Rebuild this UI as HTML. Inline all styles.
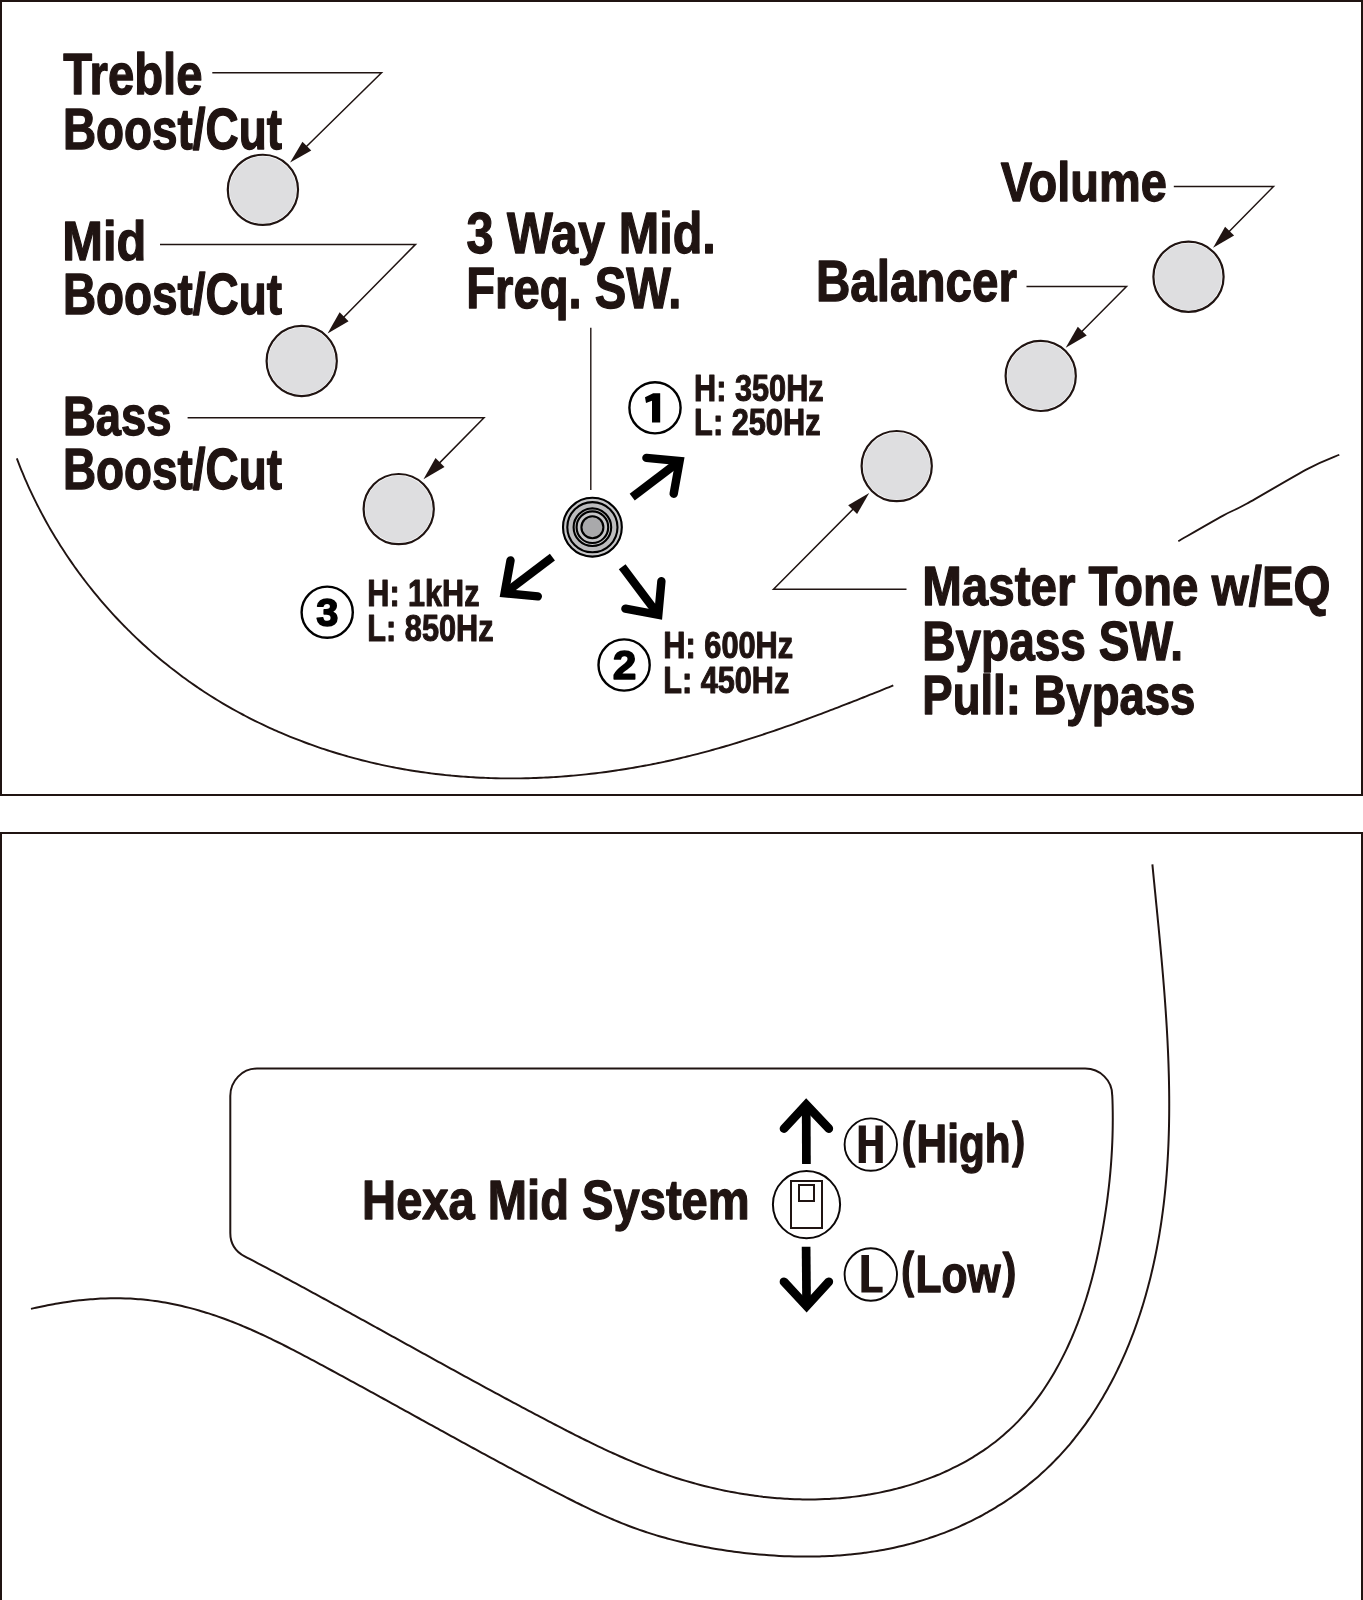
<!DOCTYPE html>
<html><head><meta charset="utf-8"><style>
html,body{margin:0;padding:0;background:#fff;width:1363px;height:1600px;overflow:hidden}
svg{display:block;will-change:transform}
text{font-family:"Liberation Sans",sans-serif;font-weight:bold}
</style></head><body>
<svg width="1363" height="1600" viewBox="0 0 1363 1600">
<rect x="1" y="1" width="1361" height="794" fill="none" stroke="#201412" stroke-width="2"/>
<path d="M1,1700 L1,833 L1362,833 L1362,1700" fill="none" stroke="#201412" stroke-width="2"/>
<path d="M16.83,458.44 C17.13,459.22 18.02,461.57 18.63,463.13 C19.24,464.69 19.85,466.25 20.47,467.81 C21.09,469.37 21.73,470.92 22.37,472.47 C23.01,474.02 23.65,475.57 24.31,477.11 C24.97,478.65 25.64,480.19 26.31,481.72 C26.98,483.25 27.66,484.78 28.35,486.31 C29.04,487.84 29.74,489.36 30.45,490.88 C31.16,492.4 31.87,493.92 32.59,495.43 C33.31,496.94 34.04,498.45 34.78,499.96 C35.52,501.46 36.27,502.96 37.02,504.46 C37.78,505.96 38.54,507.45 39.31,508.94 C40.08,510.43 40.86,511.91 41.65,513.39 C42.44,514.87 43.23,516.35 44.03,517.82 C44.83,519.29 45.64,520.76 46.46,522.22 C47.28,523.68 48.1,525.14 48.93,526.6 C49.76,528.06 50.6,529.5 51.45,530.95 C52.3,532.4 53.16,533.84 54.02,535.28 C54.88,536.72 55.75,538.14 56.63,539.57 C57.51,541 58.39,542.43 59.28,543.85 C60.17,545.27 61.07,546.68 61.98,548.09 C62.89,549.5 63.81,550.9 64.73,552.3 C65.65,553.7 66.58,555.1 67.51,556.49 C68.45,557.88 69.39,559.27 70.34,560.65 C71.29,562.03 72.24,563.41 73.21,564.78 C74.17,566.15 75.15,567.52 76.13,568.88 C77.11,570.24 78.1,571.59 79.09,572.94 C80.08,574.29 81.08,575.64 82.08,576.98 C83.08,578.32 84.1,579.66 85.12,580.99 C86.14,582.32 87.17,583.64 88.2,584.96 C89.23,586.28 90.28,587.6 91.33,588.91 C92.38,590.22 93.43,591.52 94.49,592.82 C95.55,594.12 96.62,595.41 97.69,596.7 C98.76,597.99 99.84,599.26 100.93,600.54 C102.02,601.81 103.11,603.09 104.21,604.35 C105.31,605.62 106.41,606.88 107.52,608.13 C108.63,609.38 109.75,610.63 110.88,611.87 C112,613.11 113.13,614.35 114.27,615.58 C115.41,616.81 116.55,618.03 117.7,619.25 C118.85,620.47 120.01,621.68 121.17,622.89 C122.33,624.1 123.51,625.3 124.68,626.49 C125.86,627.68 127.03,628.87 128.22,630.05 C129.41,631.23 130.59,632.41 131.79,633.58 C132.99,634.75 134.2,635.91 135.41,637.07 C136.62,638.23 137.83,639.38 139.05,640.52 C140.27,641.66 141.51,642.81 142.74,643.94 C143.97,645.07 145.2,646.19 146.45,647.31 C147.69,648.43 148.95,649.54 150.21,650.65 C151.47,651.76 152.72,652.86 153.99,653.95 C155.26,655.04 156.53,656.12 157.81,657.2 C159.09,658.28 160.37,659.35 161.66,660.42 C162.95,661.49 164.24,662.55 165.54,663.6 C166.84,664.65 168.15,665.69 169.46,666.73 C170.77,667.77 172.09,668.8 173.41,669.82 C174.73,670.84 176.05,671.86 177.38,672.87 C178.71,673.88 180.05,674.88 181.39,675.88 C182.73,676.88 184.08,677.87 185.43,678.85 C186.78,679.83 188.14,680.8 189.5,681.77 C190.86,682.74 192.24,683.7 193.61,684.65 C194.98,685.6 196.36,686.54 197.74,687.48 C199.12,688.42 200.5,689.35 201.89,690.27 C203.28,691.19 204.68,692.11 206.08,693.02 C207.48,693.93 208.89,694.83 210.3,695.72 C211.71,696.61 213.12,697.5 214.54,698.38 C215.96,699.26 217.38,700.13 218.81,700.99 C220.24,701.85 221.67,702.71 223.11,703.56 C224.55,704.41 225.99,705.25 227.43,706.08 C228.88,706.91 230.32,707.74 231.78,708.56 C233.24,709.38 234.7,710.19 236.16,711 C237.62,711.81 239.09,712.6 240.56,713.39 C242.03,714.18 243.5,714.97 244.98,715.74 C246.46,716.51 247.94,717.28 249.42,718.04 C250.9,718.8 252.39,719.55 253.89,720.3 C255.38,721.04 256.89,721.78 258.39,722.51 C259.89,723.24 261.39,723.97 262.9,724.69 C264.41,725.41 265.92,726.11 267.43,726.81 C268.94,727.51 270.47,728.21 271.99,728.9 C273.51,729.59 275.04,730.27 276.57,730.94 C278.1,731.61 279.63,732.27 281.17,732.93 C282.71,733.59 284.24,734.25 285.78,734.89 C287.32,735.53 288.87,736.16 290.42,736.79 C291.97,737.42 293.52,738.04 295.07,738.66 C296.62,739.27 298.18,739.88 299.74,740.48 C301.3,741.08 302.86,741.67 304.43,742.26 C306,742.85 307.57,743.42 309.14,743.99 C310.71,744.56 312.28,745.12 313.86,745.68 C315.44,746.24 317.02,746.79 318.6,747.33 C320.18,747.87 321.77,748.41 323.36,748.94 C324.95,749.47 326.54,749.99 328.13,750.5 C329.72,751.01 331.31,751.51 332.91,752.01 C334.51,752.51 336.11,753 337.71,753.49 C339.31,753.98 340.91,754.45 342.52,754.92 C344.12,755.39 345.73,755.85 347.34,756.31 C348.95,756.76 350.56,757.21 352.18,757.65 C353.8,758.09 355.41,758.52 357.03,758.95 C358.65,759.38 360.27,759.8 361.89,760.21 C363.51,760.62 365.13,761.03 366.76,761.43 C368.38,761.83 370.01,762.22 371.64,762.6 C373.27,762.98 374.9,763.36 376.53,763.73 C378.16,764.1 379.8,764.47 381.43,764.82 C383.06,765.18 384.7,765.52 386.34,765.86 C387.98,766.2 389.62,766.53 391.26,766.86 C392.9,767.19 394.55,767.51 396.19,767.82 C397.83,768.13 399.48,768.44 401.12,768.74 C402.76,769.04 404.41,769.33 406.06,769.61 C407.71,769.89 409.36,770.17 411.01,770.44 C412.66,770.71 414.31,770.98 415.96,771.23 C417.61,771.49 419.27,771.73 420.92,771.97 C422.57,772.21 424.23,772.45 425.88,772.68 C427.53,772.91 429.19,773.13 430.85,773.34 C432.51,773.55 434.17,773.76 435.83,773.96 C437.49,774.16 439.14,774.36 440.8,774.54 C442.46,774.72 444.13,774.9 445.79,775.07 C447.45,775.24 449.11,775.41 450.77,775.57 C452.43,775.73 454.09,775.88 455.76,776.03 C457.43,776.17 459.09,776.31 460.76,776.44 C462.43,776.57 464.09,776.7 465.76,776.82 C467.43,776.94 469.09,777.04 470.76,777.15 C472.43,777.25 474.09,777.36 475.76,777.45 C477.43,777.54 479.1,777.62 480.77,777.7 C482.44,777.78 484.1,777.85 485.77,777.92 C487.44,777.99 489.12,778.05 490.79,778.1 C492.46,778.15 494.13,778.2 495.8,778.24 C497.47,778.28 499.14,778.31 500.81,778.34 C502.48,778.37 504.16,778.39 505.83,778.4 C507.5,778.41 509.17,778.42 510.84,778.42 C512.51,778.42 514.19,778.42 515.86,778.41 C517.53,778.4 519.21,778.38 520.88,778.36 C522.55,778.34 524.22,778.31 525.89,778.27 C527.56,778.23 529.24,778.19 530.91,778.14 C532.58,778.09 534.26,778.04 535.93,777.98 C537.6,777.92 539.27,777.85 540.94,777.78 C542.61,777.71 544.29,777.62 545.96,777.54 C547.63,777.45 549.3,777.37 550.97,777.27 C552.64,777.17 554.32,777.07 555.99,776.96 C557.66,776.85 559.33,776.74 561,776.62 C562.67,776.5 564.34,776.37 566.01,776.24 C567.68,776.11 569.35,775.97 571.02,775.82 C572.69,775.68 574.35,775.53 576.02,775.37 C577.69,775.21 579.35,775.05 581.02,774.88 C582.69,774.71 584.35,774.54 586.02,774.36 C587.69,774.18 589.36,774 591.02,773.81 C592.68,773.62 594.35,773.42 596.01,773.22 C597.67,773.02 599.34,772.81 601,772.6 C602.66,772.39 604.33,772.17 605.99,771.94 C607.65,771.72 609.31,771.49 610.97,771.25 C612.63,771.01 614.29,770.78 615.95,770.53 C617.61,770.28 619.26,770.03 620.92,769.77 C622.58,769.51 624.24,769.26 625.89,768.99 C627.54,768.72 629.2,768.44 630.85,768.16 C632.5,767.88 634.16,767.6 635.81,767.31 C637.46,767.02 639.11,766.73 640.76,766.43 C642.41,766.13 644.05,765.82 645.7,765.51 C647.35,765.2 649,764.88 650.64,764.56 C652.28,764.24 653.93,763.91 655.57,763.58 C657.21,763.25 658.86,762.91 660.5,762.57 C662.14,762.23 663.78,761.88 665.42,761.53 C667.06,761.18 668.7,760.81 670.33,760.45 C671.97,760.09 673.6,759.72 675.23,759.35 C676.86,758.98 678.5,758.6 680.13,758.22 C681.76,757.84 683.39,757.44 685.02,757.05 C686.65,756.66 688.27,756.26 689.9,755.86 C691.52,755.46 693.15,755.05 694.77,754.64 C696.39,754.23 698.01,753.8 699.63,753.38 C701.25,752.96 702.87,752.54 704.49,752.11 C706.11,751.68 707.72,751.24 709.33,750.8 C710.94,750.36 712.56,749.92 714.17,749.47 C715.78,749.02 717.39,748.57 719,748.11 C720.61,747.65 722.21,747.19 723.82,746.72 C725.43,746.25 727.03,745.78 728.64,745.31 C730.25,744.84 731.85,744.36 733.45,743.88 C735.05,743.4 736.65,742.91 738.25,742.42 C739.85,741.93 741.44,741.44 743.04,740.94 C744.64,740.44 746.24,739.95 747.83,739.44 C749.43,738.94 751.02,738.42 752.61,737.91 C754.2,737.4 755.79,736.89 757.38,736.37 C758.97,735.85 760.55,735.32 762.14,734.8 C763.73,734.27 765.31,733.75 766.9,733.22 C768.49,732.69 770.08,732.16 771.66,731.62 C773.24,731.08 774.82,730.53 776.4,729.99 C777.98,729.45 779.56,728.91 781.14,728.36 C782.72,727.81 784.29,727.26 785.87,726.7 C787.45,726.14 789.02,725.59 790.6,725.03 C792.18,724.47 793.75,723.91 795.32,723.34 C796.89,722.77 798.47,722.2 800.04,721.63 C801.61,721.06 803.18,720.49 804.75,719.92 C806.32,719.35 807.88,718.77 809.45,718.19 C811.02,717.61 812.59,717.03 814.15,716.44 C815.71,715.86 817.28,715.27 818.84,714.68 C820.4,714.09 821.97,713.5 823.53,712.91 C825.09,712.32 826.65,711.73 828.21,711.13 C829.77,710.53 831.33,709.94 832.89,709.34 C834.45,708.74 836,708.14 837.56,707.54 C839.12,706.94 840.67,706.33 842.23,705.73 C843.79,705.13 845.34,704.53 846.89,703.92 C848.44,703.31 850,702.7 851.55,702.09 C853.1,701.48 854.66,700.87 856.21,700.26 C857.76,699.65 859.31,699.03 860.86,698.42 C862.41,697.8 863.95,697.19 865.5,696.57 C867.05,695.95 868.59,695.34 870.14,694.72 C871.69,694.1 873.23,693.49 874.78,692.87 C876.33,692.25 877.88,691.63 879.42,691.01 C880.96,690.39 882.51,689.77 884.05,689.15 C885.59,688.53 887.13,687.9 888.67,687.28 C890.21,686.66 892.53,685.72 893.3,685.41" fill="none" stroke="#201412" stroke-width="1.9"/>
<path d="M1178.3,541.2 C1185.77,536.93 1211.72,521.83 1223.1,515.6 C1234.48,509.37 1232.42,511.63 1246.6,503.8 C1260.78,495.97 1292.75,476.78 1308.2,468.6 C1323.65,460.42 1334.12,457.02 1339.3,454.7" fill="none" stroke="#201412" stroke-width="1.8"/>
<circle cx="262.9" cy="189.85" r="35.1" fill="#fff" stroke="#201412" stroke-width="2.2"/>
<circle cx="262.9" cy="189.85" r="33.5" fill="#dedee0"/>
<circle cx="301.7" cy="361" r="35.1" fill="#fff" stroke="#201412" stroke-width="2.2"/>
<circle cx="301.7" cy="361" r="33.5" fill="#dedee0"/>
<circle cx="398.7" cy="509.1" r="35.1" fill="#fff" stroke="#201412" stroke-width="2.2"/>
<circle cx="398.7" cy="509.1" r="33.5" fill="#dedee0"/>
<circle cx="1188.5" cy="276.8" r="35.1" fill="#fff" stroke="#201412" stroke-width="2.2"/>
<circle cx="1188.5" cy="276.8" r="33.5" fill="#dedee0"/>
<circle cx="1040.7" cy="375.9" r="35.1" fill="#fff" stroke="#201412" stroke-width="2.2"/>
<circle cx="1040.7" cy="375.9" r="33.5" fill="#dedee0"/>
<circle cx="896.7" cy="466.1" r="35.1" fill="#fff" stroke="#201412" stroke-width="2.2"/>
<circle cx="896.7" cy="466.1" r="33.5" fill="#dedee0"/>
<polyline points="212.3,72.8 381.5,72.8 305.44,147.53" fill="none" stroke="#201412" stroke-width="1.5" stroke-linejoin="miter" stroke-miterlimit="10"/><polygon points="290.1,162.6 302.45,141.64 311.28,150.62" fill="#201412"/>
<polyline points="160,244.4 415.5,244.4 342.7,318.19" fill="none" stroke="#201412" stroke-width="1.5" stroke-linejoin="miter" stroke-miterlimit="10"/><polygon points="327.6,333.5 339.62,312.35 348.59,321.2" fill="#201412"/>
<polyline points="187.6,417.8 484,417.8 438.59,463.89" fill="none" stroke="#201412" stroke-width="1.5" stroke-linejoin="miter" stroke-miterlimit="10"/><polygon points="423.5,479.2 435.51,458.04 444.48,466.88" fill="#201412"/>
<polyline points="1173.8,186.5 1273.5,186.5 1228.19,232.49" fill="none" stroke="#201412" stroke-width="1.5" stroke-linejoin="miter" stroke-miterlimit="10"/><polygon points="1213.1,247.8 1225.11,226.64 1234.08,235.48" fill="#201412"/>
<polyline points="1026.5,286.5 1126.5,286.5 1080.84,332.54" fill="none" stroke="#201412" stroke-width="1.5" stroke-linejoin="miter" stroke-miterlimit="10"/><polygon points="1065.7,347.8 1077.78,326.68 1086.72,335.55" fill="#201412"/>
<polyline points="906.5,589.2 773.5,589.2 854.04,508.15" fill="none" stroke="#201412" stroke-width="1.5" stroke-linejoin="miter" stroke-miterlimit="10"/><polygon points="869.2,492.9 857.1,514.01 848.17,505.13" fill="#201412"/>
<line x1="590.8" y1="327.8" x2="590.8" y2="490" stroke="#201412" stroke-width="1.4"/>
<circle cx="592.4" cy="527.2" r="30.3" fill="#c6c6c8"/>
<circle cx="592.4" cy="527.2" r="22" fill="none" stroke="#bcbcbe" stroke-width="5"/>
<circle cx="592.4" cy="527.2" r="11" fill="#a9a9ab"/>
<circle cx="592.4" cy="527.2" r="29.4" fill="none" stroke="#000" stroke-width="2.1"/>
<circle cx="592.4" cy="527.2" r="25.1" fill="none" stroke="#000" stroke-width="2.1"/>
<circle cx="592.4" cy="527.2" r="18.8" fill="none" stroke="#000" stroke-width="2.1"/>
<circle cx="592.4" cy="527.2" r="15.8" fill="none" stroke="#000" stroke-width="2.1"/>
<circle cx="592.4" cy="527.2" r="11.0" fill="none" stroke="#000" stroke-width="2.1"/>
<line x1="632.2" y1="497.1" x2="679.6" y2="461.1" stroke="#000" stroke-width="8.4" stroke-linecap="butt"/><polyline points="646.4,457.9 679.6,461.1 673.7,493.7" fill="none" stroke="#000" stroke-width="8.4" stroke-linecap="round" stroke-linejoin="miter" stroke-miterlimit="10"/>
<line x1="622.2" y1="566.8" x2="658.3" y2="614.8" stroke="#000" stroke-width="8.4" stroke-linecap="butt"/><polyline points="661.4,581.2 658.3,614.8 625.4,608.7" fill="none" stroke="#000" stroke-width="8.4" stroke-linecap="round" stroke-linejoin="miter" stroke-miterlimit="10"/>
<line x1="552.4" y1="557.2" x2="504.6" y2="593.2" stroke="#000" stroke-width="8.4" stroke-linecap="butt"/><polyline points="510.5,560.4 504.6,593.2 537.8,596.4" fill="none" stroke="#000" stroke-width="8.4" stroke-linecap="round" stroke-linejoin="miter" stroke-miterlimit="10"/>
<circle cx="655" cy="407.8" r="25.6" fill="none" stroke="#000" stroke-width="2.4"/>
<circle cx="624.1" cy="665" r="25.6" fill="none" stroke="#000" stroke-width="2.4"/>
<circle cx="327.2" cy="612.2" r="25.6" fill="none" stroke="#000" stroke-width="2.4"/>
<polygon points="653.2,393.2 660.2,393.2 660.2,422.6 652,422.6 652,400.8 646,402.9 645,397.3" fill="#000"/>
<path d="M257,1068.6 L1085.2,1068.6 A27,26.6 0 0 1 1112.2,1095.2 C1112.32,1096.06 1112.42,1098.57 1112.48,1100.25 C1112.54,1101.93 1112.58,1103.61 1112.62,1105.29 C1112.66,1106.97 1112.69,1108.64 1112.71,1110.31 C1112.73,1111.98 1112.75,1113.66 1112.76,1115.33 C1112.77,1117 1112.78,1118.68 1112.77,1120.35 C1112.76,1122.02 1112.75,1123.7 1112.73,1125.37 C1112.71,1127.04 1112.68,1128.71 1112.65,1130.38 C1112.62,1132.05 1112.58,1133.72 1112.53,1135.39 C1112.48,1137.06 1112.42,1138.72 1112.36,1140.39 C1112.3,1142.06 1112.23,1143.72 1112.15,1145.39 C1112.07,1147.06 1111.99,1148.73 1111.9,1150.39 C1111.81,1152.06 1111.71,1153.72 1111.61,1155.38 C1111.51,1157.04 1111.4,1158.71 1111.28,1160.37 C1111.16,1162.03 1111.04,1163.69 1110.91,1165.35 C1110.78,1167.01 1110.64,1168.67 1110.5,1170.33 C1110.36,1171.99 1110.21,1173.65 1110.05,1175.31 C1109.89,1176.97 1109.73,1178.62 1109.56,1180.28 C1109.39,1181.94 1109.21,1183.6 1109.03,1185.25 C1108.85,1186.9 1108.65,1188.56 1108.46,1190.21 C1108.27,1191.86 1108.07,1193.52 1107.86,1195.17 C1107.65,1196.82 1107.44,1198.47 1107.22,1200.12 C1107,1201.77 1106.77,1203.42 1106.54,1205.07 C1106.31,1206.72 1106.07,1208.37 1105.83,1210.02 C1105.59,1211.67 1105.34,1213.32 1105.08,1214.96 C1104.82,1216.61 1104.56,1218.25 1104.29,1219.89 C1104.02,1221.54 1103.75,1223.19 1103.47,1224.83 C1103.19,1226.47 1102.91,1228.11 1102.62,1229.75 C1102.33,1231.39 1102.03,1233.03 1101.73,1234.67 C1101.43,1236.31 1101.12,1237.95 1100.8,1239.59 C1100.48,1241.23 1100.17,1242.86 1099.84,1244.5 C1099.51,1246.14 1099.18,1247.78 1098.84,1249.41 C1098.5,1251.04 1098.15,1252.67 1097.8,1254.3 C1097.45,1255.93 1097.09,1257.56 1096.72,1259.19 C1096.35,1260.82 1095.98,1262.44 1095.6,1264.07 C1095.22,1265.69 1094.83,1267.32 1094.43,1268.94 C1094.03,1270.56 1093.62,1272.19 1093.21,1273.81 C1092.8,1275.43 1092.38,1277.05 1091.95,1278.66 C1091.52,1280.27 1091.09,1281.88 1090.64,1283.49 C1090.2,1285.1 1089.74,1286.71 1089.28,1288.32 C1088.82,1289.93 1088.35,1291.53 1087.87,1293.13 C1087.39,1294.73 1086.9,1296.33 1086.4,1297.93 C1085.9,1299.53 1085.4,1301.13 1084.88,1302.72 C1084.36,1304.31 1083.84,1305.9 1083.3,1307.49 C1082.76,1309.08 1082.23,1310.67 1081.67,1312.25 C1081.12,1313.83 1080.55,1315.41 1079.97,1316.99 C1079.39,1318.57 1078.82,1320.14 1078.22,1321.71 C1077.62,1323.28 1077.02,1324.86 1076.4,1326.42 C1075.78,1327.99 1075.16,1329.54 1074.52,1331.1 C1073.88,1332.66 1073.24,1334.21 1072.58,1335.76 C1071.92,1337.31 1071.25,1338.86 1070.57,1340.4 C1069.89,1341.94 1069.2,1343.48 1068.5,1345.01 C1067.8,1346.54 1067.08,1348.06 1066.36,1349.58 C1065.63,1351.1 1064.9,1352.62 1064.15,1354.13 C1063.4,1355.64 1062.65,1357.14 1061.88,1358.63 C1061.11,1360.12 1060.33,1361.62 1059.54,1363.1 C1058.75,1364.58 1057.95,1366.06 1057.13,1367.53 C1056.32,1369 1055.49,1370.46 1054.65,1371.91 C1053.81,1373.36 1052.96,1374.81 1052.1,1376.25 C1051.24,1377.69 1050.37,1379.11 1049.48,1380.53 C1048.6,1381.95 1047.7,1383.37 1046.79,1384.77 C1045.88,1386.17 1044.95,1387.57 1044.02,1388.95 C1043.09,1390.33 1042.14,1391.71 1041.18,1393.07 C1040.22,1394.43 1039.25,1395.79 1038.27,1397.13 C1037.29,1398.47 1036.3,1399.81 1035.29,1401.13 C1034.28,1402.45 1033.26,1403.77 1032.23,1405.07 C1031.2,1406.37 1030.15,1407.65 1029.09,1408.93 C1028.03,1410.21 1026.95,1411.48 1025.87,1412.73 C1024.78,1413.98 1023.69,1415.22 1022.58,1416.45 C1021.47,1417.68 1020.35,1418.9 1019.21,1420.1 C1018.07,1421.3 1016.92,1422.5 1015.76,1423.67 C1014.6,1424.85 1013.43,1426 1012.24,1427.15 C1011.05,1428.3 1009.85,1429.44 1008.63,1430.56 C1007.41,1431.68 1006.18,1432.78 1004.94,1433.87 C1003.7,1434.96 1002.44,1436.04 1001.17,1437.1 C999.9,1438.16 998.62,1439.21 997.32,1440.24 C996.03,1441.27 994.72,1442.3 993.4,1443.3 C992.08,1444.3 990.75,1445.29 989.41,1446.26 C988.07,1447.23 986.71,1448.19 985.34,1449.14 C983.98,1450.09 982.61,1451.02 981.22,1451.94 C979.84,1452.86 978.44,1453.76 977.03,1454.65 C975.62,1455.54 974.21,1456.41 972.78,1457.27 C971.35,1458.13 969.91,1458.98 968.47,1459.81 C967.03,1460.64 965.57,1461.46 964.11,1462.27 C962.65,1463.08 961.18,1463.86 959.7,1464.64 C958.22,1465.42 956.74,1466.18 955.24,1466.93 C953.75,1467.68 952.24,1468.42 950.73,1469.14 C949.22,1469.86 947.71,1470.57 946.19,1471.26 C944.67,1471.95 943.13,1472.63 941.6,1473.3 C940.07,1473.97 938.52,1474.62 936.98,1475.26 C935.44,1475.9 933.88,1476.53 932.33,1477.14 C930.78,1477.75 929.22,1478.35 927.65,1478.94 C926.08,1479.53 924.5,1480.1 922.93,1480.66 C921.36,1481.22 919.78,1481.77 918.2,1482.3 C916.62,1482.83 915.03,1483.35 913.44,1483.86 C911.85,1484.37 910.26,1484.86 908.66,1485.34 C907.06,1485.82 905.46,1486.3 903.86,1486.75 C902.26,1487.2 900.65,1487.64 899.04,1488.07 C897.43,1488.5 895.83,1488.91 894.21,1489.32 C892.6,1489.72 890.97,1490.12 889.35,1490.5 C887.73,1490.88 886.11,1491.25 884.48,1491.6 C882.85,1491.95 881.22,1492.29 879.59,1492.62 C877.96,1492.95 876.33,1493.27 874.69,1493.57 C873.06,1493.87 871.42,1494.16 869.78,1494.44 C868.14,1494.72 866.5,1494.99 864.85,1495.25 C863.2,1495.51 861.55,1495.75 859.9,1495.98 C858.25,1496.21 856.6,1496.42 854.95,1496.63 C853.3,1496.84 851.64,1497.04 849.98,1497.22 C848.32,1497.4 846.67,1497.58 845.01,1497.74 C843.35,1497.9 841.69,1498.05 840.03,1498.19 C838.37,1498.33 836.7,1498.45 835.04,1498.57 C833.38,1498.68 831.71,1498.79 830.04,1498.88 C828.37,1498.97 826.7,1499.05 825.03,1499.12 C823.36,1499.19 821.69,1499.24 820.02,1499.29 C818.35,1499.34 816.68,1499.38 815.01,1499.4 C813.34,1499.43 811.66,1499.44 809.99,1499.44 C808.32,1499.44 806.63,1499.44 804.96,1499.42 C803.29,1499.4 801.61,1499.37 799.94,1499.33 C798.27,1499.29 796.6,1499.24 794.92,1499.18 C793.24,1499.12 791.56,1499.04 789.89,1498.96 C788.22,1498.88 786.54,1498.79 784.87,1498.69 C783.2,1498.59 781.51,1498.47 779.84,1498.35 C778.17,1498.22 776.49,1498.09 774.82,1497.94 C773.15,1497.8 771.47,1497.64 769.8,1497.48 C768.13,1497.32 766.46,1497.14 764.79,1496.96 C763.12,1496.78 761.45,1496.57 759.78,1496.37 C758.11,1496.16 756.45,1495.95 754.78,1495.73 C753.11,1495.51 751.44,1495.27 749.78,1495.03 C748.12,1494.79 746.45,1494.53 744.79,1494.27 C743.13,1494.01 741.47,1493.74 739.81,1493.46 C738.15,1493.18 736.5,1492.88 734.84,1492.58 C733.19,1492.28 731.53,1491.97 729.88,1491.65 C728.23,1491.33 726.58,1491.01 724.93,1490.67 C723.28,1490.33 721.63,1489.99 719.99,1489.63 C718.35,1489.28 716.71,1488.91 715.07,1488.54 C713.43,1488.17 711.79,1487.79 710.16,1487.4 C708.52,1487.01 706.89,1486.61 705.26,1486.2 C703.63,1485.79 702,1485.38 700.38,1484.95 C698.75,1484.52 697.13,1484.08 695.51,1483.64 C693.89,1483.2 692.27,1482.75 690.66,1482.29 C689.05,1481.83 687.44,1481.37 685.83,1480.89 C684.22,1480.41 682.62,1479.92 681.02,1479.43 C679.42,1478.94 677.82,1478.44 676.23,1477.93 C674.64,1477.42 673.05,1476.91 671.46,1476.38 C669.87,1475.86 668.29,1475.32 666.71,1474.78 C665.13,1474.24 663.55,1473.7 661.98,1473.14 C660.41,1472.59 658.85,1472.02 657.28,1471.45 C655.71,1470.88 654.15,1470.3 652.59,1469.71 C651.03,1469.12 649.48,1468.54 647.93,1467.94 C646.38,1467.34 644.83,1466.73 643.28,1466.12 C641.73,1465.51 640.19,1464.88 638.65,1464.26 C637.11,1463.63 635.57,1463.01 634.04,1462.37 C632.51,1461.73 630.98,1461.09 629.45,1460.44 C627.92,1459.79 626.39,1459.13 624.87,1458.47 C623.35,1457.81 621.82,1457.14 620.3,1456.47 C618.78,1455.8 617.27,1455.12 615.76,1454.44 C614.25,1453.76 612.73,1453.07 611.22,1452.38 C609.71,1451.69 608.21,1451 606.7,1450.3 C605.2,1449.6 603.69,1448.89 602.19,1448.18 C600.69,1447.47 599.19,1446.76 597.69,1446.04 C596.19,1445.32 594.7,1444.61 593.2,1443.88 C591.71,1443.16 590.21,1442.42 588.72,1441.69 C587.23,1440.96 585.73,1440.23 584.24,1439.49 C582.75,1438.75 581.27,1438.01 579.78,1437.26 C578.29,1436.51 576.81,1435.77 575.32,1435.02 C573.84,1434.27 572.35,1433.51 570.87,1432.76 C569.39,1432.01 567.91,1431.25 566.43,1430.49 C564.95,1429.73 563.47,1428.96 561.99,1428.2 C560.51,1427.44 559.03,1426.68 557.55,1425.91 C556.07,1425.14 554.6,1424.37 553.12,1423.6 C551.64,1422.83 550.17,1422.06 548.69,1421.29 C547.21,1420.52 545.74,1419.74 544.26,1418.97 C542.78,1418.2 541.31,1417.42 539.83,1416.64 C538.35,1415.86 536.88,1415.09 535.4,1414.31 C533.92,1413.53 532.45,1412.75 530.98,1411.97 C529.51,1411.19 528.03,1410.4 526.56,1409.62 C525.08,1408.84 523.61,1408.05 522.13,1407.27 C520.65,1406.49 519.18,1405.71 517.71,1404.92 C516.24,1404.13 514.76,1403.34 513.29,1402.55 C511.82,1401.76 510.35,1400.98 508.88,1400.19 C507.41,1399.4 505.93,1398.6 504.46,1397.81 C502.99,1397.02 501.52,1396.22 500.05,1395.43 C498.58,1394.64 497.1,1393.84 495.63,1393.05 C494.16,1392.26 492.69,1391.47 491.22,1390.67 C489.75,1389.88 488.28,1389.08 486.81,1388.28 C485.34,1387.48 483.87,1386.68 482.4,1385.88 C480.93,1385.08 479.46,1384.28 477.99,1383.48 C476.52,1382.68 475.05,1381.88 473.58,1381.08 C472.11,1380.28 470.64,1379.48 469.17,1378.68 C467.7,1377.88 466.24,1377.07 464.77,1376.27 C463.3,1375.47 461.83,1374.66 460.36,1373.86 C458.89,1373.05 457.43,1372.25 455.96,1371.44 C454.49,1370.63 453.02,1369.83 451.55,1369.02 C450.08,1368.21 448.62,1367.42 447.15,1366.61 C445.68,1365.8 444.22,1364.99 442.75,1364.18 C441.28,1363.37 439.82,1362.57 438.35,1361.76 C436.88,1360.95 435.42,1360.15 433.95,1359.34 C432.48,1358.53 431.02,1357.72 429.55,1356.91 C428.08,1356.1 426.62,1355.29 425.15,1354.48 C423.68,1353.67 422.22,1352.86 420.75,1352.05 C419.28,1351.24 417.82,1350.43 416.35,1349.62 C414.88,1348.81 413.42,1348 411.95,1347.19 C410.48,1346.38 409.02,1345.57 407.55,1344.76 C406.08,1343.95 404.62,1343.14 403.15,1342.33 C401.68,1341.52 400.22,1340.71 398.76,1339.9 C397.3,1339.09 395.83,1338.28 394.36,1337.47 C392.89,1336.66 391.43,1335.85 389.96,1335.04 C388.49,1334.23 387.02,1333.42 385.56,1332.61 C384.1,1331.8 382.63,1330.99 381.17,1330.18 C379.71,1329.37 378.24,1328.56 376.77,1327.75 C375.3,1326.94 373.83,1326.13 372.37,1325.32 C370.91,1324.51 369.45,1323.7 367.98,1322.89 C366.51,1322.08 365.05,1321.28 363.58,1320.47 C362.11,1319.66 360.65,1318.86 359.18,1318.05 C357.71,1317.24 356.25,1316.43 354.78,1315.62 C353.31,1314.81 351.85,1314.02 350.39,1313.21 C348.93,1312.4 347.46,1311.6 345.99,1310.79 C344.52,1309.98 343.06,1309.19 341.59,1308.38 C340.12,1307.58 338.66,1306.76 337.19,1305.96 C335.72,1305.16 334.26,1304.36 332.79,1303.56 C331.32,1302.76 329.86,1301.95 328.39,1301.15 C326.92,1300.35 325.46,1299.55 323.99,1298.75 C322.52,1297.95 321.06,1297.15 319.59,1296.35 C318.12,1295.55 316.66,1294.76 315.19,1293.96 C313.72,1293.16 312.26,1292.37 310.79,1291.57 C309.32,1290.77 307.86,1289.98 306.39,1289.18 C304.92,1288.38 303.46,1287.59 301.99,1286.8 C300.52,1286.01 299.05,1285.21 297.58,1284.42 C296.11,1283.63 294.65,1282.84 293.18,1282.05 C291.71,1281.26 290.24,1280.47 288.77,1279.68 C287.3,1278.89 285.84,1278.11 284.37,1277.32 C282.9,1276.53 281.43,1275.75 279.96,1274.96 C278.49,1274.17 277.02,1273.39 275.55,1272.61 C274.08,1271.83 272.62,1271.05 271.15,1270.27 C269.68,1269.49 268.21,1268.71 266.74,1267.93 C265.27,1267.15 263.8,1266.37 262.33,1265.59 C260.86,1264.81 259.38,1264.04 257.91,1263.27 C256.44,1262.5 254.97,1261.72 253.5,1260.95 C252.03,1260.18 250.56,1259.41 249.09,1258.64 C247.62,1257.87 245.41,1256.71 244.67,1256.33 C236,1251.7 230.3,1245 230.3,1232.9 L230.3,1096 A26.7,27.4 0 0 1 257,1068.6 Z" fill="none" stroke="#201412" stroke-width="2"/>
<path d="M1152.39,864.45 C1152.47,865.26 1152.7,867.68 1152.86,869.3 C1153.02,870.92 1153.17,872.54 1153.33,874.17 C1153.49,875.79 1153.65,877.42 1153.81,879.05 C1153.97,880.68 1154.14,882.3 1154.3,883.93 C1154.46,885.56 1154.62,887.19 1154.78,888.82 C1154.94,890.45 1155.11,892.09 1155.27,893.72 C1155.43,895.36 1155.59,896.99 1155.75,898.63 C1155.91,900.27 1156.08,901.9 1156.24,903.54 C1156.4,905.18 1156.57,906.83 1156.73,908.47 C1156.89,910.11 1157.05,911.75 1157.21,913.39 C1157.37,915.03 1157.54,916.68 1157.7,918.33 C1157.86,919.98 1158.02,921.62 1158.18,923.27 C1158.34,924.92 1158.5,926.57 1158.66,928.22 C1158.82,929.87 1158.98,931.53 1159.14,933.18 C1159.3,934.83 1159.45,936.49 1159.61,938.14 C1159.77,939.79 1159.92,941.45 1160.08,943.1 C1160.23,944.75 1160.39,946.41 1160.54,948.07 C1160.69,949.73 1160.85,951.39 1161,953.05 C1161.15,954.71 1161.3,956.37 1161.45,958.03 C1161.6,959.69 1161.74,961.36 1161.89,963.02 C1162.04,964.68 1162.18,966.35 1162.33,968.01 C1162.47,969.67 1162.62,971.34 1162.76,973 C1162.9,974.66 1163.04,976.33 1163.18,978 C1163.32,979.67 1163.45,981.34 1163.59,983.01 C1163.73,984.68 1163.87,986.34 1164,988.01 C1164.13,989.68 1164.26,991.35 1164.39,993.02 C1164.52,994.69 1164.64,996.37 1164.77,998.04 C1164.89,999.71 1165.02,1001.38 1165.14,1003.05 C1165.26,1004.72 1165.38,1006.4 1165.5,1008.07 C1165.62,1009.74 1165.73,1011.42 1165.84,1013.09 C1165.95,1014.76 1166.06,1016.45 1166.17,1018.12 C1166.28,1019.79 1166.38,1021.46 1166.49,1023.14 C1166.6,1024.82 1166.7,1026.49 1166.8,1028.17 C1166.9,1029.85 1166.99,1031.52 1167.08,1033.2 C1167.17,1034.88 1167.27,1036.55 1167.36,1038.23 C1167.45,1039.91 1167.53,1041.58 1167.61,1043.26 C1167.69,1044.94 1167.77,1046.61 1167.85,1048.29 C1167.93,1049.97 1168.01,1051.65 1168.08,1053.33 C1168.15,1055.01 1168.21,1056.68 1168.28,1058.36 C1168.35,1060.04 1168.41,1061.71 1168.47,1063.39 C1168.53,1065.07 1168.58,1066.75 1168.63,1068.43 C1168.68,1070.11 1168.73,1071.78 1168.78,1073.46 C1168.83,1075.14 1168.87,1076.82 1168.91,1078.5 C1168.95,1080.18 1168.98,1081.85 1169.01,1083.53 C1169.04,1085.21 1169.07,1086.88 1169.1,1088.56 C1169.12,1090.24 1169.14,1091.91 1169.16,1093.59 C1169.18,1095.27 1169.19,1096.94 1169.2,1098.62 C1169.21,1100.3 1169.22,1101.98 1169.22,1103.65 C1169.22,1105.33 1169.22,1107 1169.21,1108.67 C1169.2,1110.35 1169.2,1112.03 1169.18,1113.7 C1169.16,1115.38 1169.14,1117.05 1169.12,1118.72 C1169.1,1120.39 1169.07,1122.07 1169.04,1123.74 C1169.01,1125.41 1168.97,1127.09 1168.93,1128.76 C1168.89,1130.43 1168.85,1132.1 1168.8,1133.77 C1168.75,1135.44 1168.7,1137.11 1168.64,1138.78 C1168.58,1140.45 1168.52,1142.12 1168.45,1143.79 C1168.38,1145.46 1168.31,1147.12 1168.23,1148.79 C1168.15,1150.46 1168.07,1152.12 1167.98,1153.79 C1167.89,1155.46 1167.8,1157.12 1167.7,1158.79 C1167.6,1160.45 1167.5,1162.12 1167.39,1163.78 C1167.28,1165.44 1167.17,1167.11 1167.05,1168.77 C1166.93,1170.43 1166.81,1172.09 1166.68,1173.75 C1166.55,1175.41 1166.42,1177.07 1166.28,1178.73 C1166.14,1180.39 1166,1182.04 1165.85,1183.7 C1165.7,1185.36 1165.54,1187.02 1165.38,1188.67 C1165.22,1190.33 1165.04,1191.98 1164.87,1193.63 C1164.7,1195.28 1164.52,1196.94 1164.34,1198.59 C1164.16,1200.24 1163.97,1201.89 1163.77,1203.54 C1163.57,1205.19 1163.37,1206.83 1163.16,1208.48 C1162.95,1210.13 1162.73,1211.78 1162.51,1213.42 C1162.29,1215.07 1162.06,1216.71 1161.83,1218.35 C1161.6,1219.99 1161.36,1221.63 1161.12,1223.27 C1160.88,1224.91 1160.62,1226.55 1160.36,1228.19 C1160.1,1229.83 1159.84,1231.46 1159.57,1233.1 C1159.3,1234.73 1159.02,1236.37 1158.73,1238 C1158.44,1239.63 1158.16,1241.26 1157.86,1242.89 C1157.56,1244.52 1157.26,1246.15 1156.95,1247.78 C1156.64,1249.41 1156.32,1251.04 1155.99,1252.66 C1155.66,1254.29 1155.34,1255.91 1155,1257.53 C1154.66,1259.15 1154.31,1260.77 1153.96,1262.39 C1153.61,1264.01 1153.25,1265.62 1152.88,1267.24 C1152.51,1268.86 1152.13,1270.47 1151.75,1272.08 C1151.37,1273.69 1150.99,1275.3 1150.59,1276.91 C1150.19,1278.52 1149.78,1280.13 1149.37,1281.74 C1148.96,1283.35 1148.55,1284.95 1148.12,1286.55 C1147.69,1288.15 1147.25,1289.75 1146.81,1291.35 C1146.37,1292.95 1145.92,1294.55 1145.46,1296.15 C1145,1297.75 1144.54,1299.34 1144.07,1300.93 C1143.6,1302.52 1143.12,1304.11 1142.63,1305.7 C1142.14,1307.29 1141.64,1308.88 1141.13,1310.46 C1140.62,1312.04 1140.11,1313.62 1139.59,1315.2 C1139.07,1316.78 1138.54,1318.37 1138,1319.94 C1137.46,1321.52 1136.91,1323.08 1136.36,1324.65 C1135.8,1326.22 1135.24,1327.79 1134.67,1329.36 C1134.1,1330.92 1133.52,1332.48 1132.93,1334.04 C1132.34,1335.6 1131.75,1337.16 1131.14,1338.71 C1130.53,1340.26 1129.91,1341.81 1129.29,1343.36 C1128.66,1344.91 1128.03,1346.45 1127.39,1347.99 C1126.75,1349.53 1126.1,1351.07 1125.44,1352.6 C1124.78,1354.13 1124.11,1355.66 1123.43,1357.19 C1122.75,1358.72 1122.06,1360.24 1121.36,1361.76 C1120.66,1363.28 1119.96,1364.79 1119.24,1366.3 C1118.52,1367.81 1117.8,1369.32 1117.06,1370.82 C1116.32,1372.32 1115.58,1373.82 1114.83,1375.32 C1114.08,1376.82 1113.32,1378.3 1112.54,1379.79 C1111.76,1381.28 1110.98,1382.76 1110.18,1384.24 C1109.38,1385.72 1108.58,1387.19 1107.77,1388.66 C1106.96,1390.13 1106.13,1391.59 1105.3,1393.05 C1104.47,1394.51 1103.62,1395.96 1102.77,1397.41 C1101.92,1398.86 1101.05,1400.29 1100.18,1401.73 C1099.31,1403.17 1098.42,1404.6 1097.53,1406.03 C1096.64,1407.46 1095.73,1408.88 1094.82,1410.29 C1093.91,1411.7 1092.98,1413.11 1092.05,1414.51 C1091.12,1415.91 1090.17,1417.3 1089.22,1418.68 C1088.27,1420.07 1087.3,1421.45 1086.33,1422.82 C1085.36,1424.19 1084.37,1425.55 1083.38,1426.91 C1082.39,1428.27 1081.38,1429.62 1080.37,1430.96 C1079.36,1432.3 1078.33,1433.63 1077.3,1434.95 C1076.27,1436.27 1075.22,1437.59 1074.17,1438.9 C1073.12,1440.21 1072.05,1441.5 1070.98,1442.79 C1069.91,1444.08 1068.83,1445.36 1067.74,1446.63 C1066.65,1447.9 1065.54,1449.16 1064.43,1450.41 C1063.32,1451.66 1062.2,1452.91 1061.07,1454.14 C1059.94,1455.37 1058.79,1456.59 1057.64,1457.8 C1056.49,1459.01 1055.33,1460.21 1054.16,1461.4 C1052.99,1462.59 1051.81,1463.76 1050.62,1464.93 C1049.43,1466.1 1048.23,1467.25 1047.02,1468.4 C1045.81,1469.55 1044.6,1470.68 1043.37,1471.81 C1042.14,1472.93 1040.9,1474.05 1039.66,1475.15 C1038.42,1476.25 1037.16,1477.35 1035.9,1478.43 C1034.64,1479.51 1033.37,1480.58 1032.09,1481.64 C1030.81,1482.7 1029.52,1483.75 1028.22,1484.79 C1026.92,1485.83 1025.62,1486.85 1024.31,1487.87 C1023,1488.89 1021.67,1489.89 1020.34,1490.89 C1019.01,1491.89 1017.68,1492.87 1016.33,1493.84 C1014.99,1494.81 1013.63,1495.77 1012.27,1496.72 C1010.91,1497.67 1009.54,1498.61 1008.17,1499.54 C1006.79,1500.47 1005.41,1501.38 1004.02,1502.29 C1002.63,1503.19 1001.24,1504.09 999.83,1504.97 C998.43,1505.85 997.01,1506.73 995.59,1507.59 C994.17,1508.45 992.75,1509.3 991.32,1510.14 C989.89,1510.98 988.45,1511.8 987,1512.62 C985.55,1513.43 984.11,1514.24 982.65,1515.03 C981.19,1515.82 979.73,1516.61 978.26,1517.38 C976.79,1518.15 975.31,1518.91 973.83,1519.66 C972.35,1520.41 970.86,1521.15 969.37,1521.87 C967.88,1522.59 966.37,1523.3 964.87,1524 C963.37,1524.7 961.87,1525.39 960.35,1526.07 C958.84,1526.75 957.31,1527.42 955.78,1528.08 C954.25,1528.74 952.73,1529.38 951.19,1530.01 C949.66,1530.64 948.12,1531.26 946.57,1531.87 C945.03,1532.48 943.47,1533.08 941.92,1533.66 C940.37,1534.25 938.81,1534.82 937.25,1535.38 C935.69,1535.94 934.11,1536.49 932.54,1537.03 C930.97,1537.57 929.4,1538.1 927.82,1538.61 C926.24,1539.12 924.65,1539.62 923.06,1540.11 C921.47,1540.6 919.88,1541.08 918.29,1541.55 C916.7,1542.02 915.1,1542.48 913.5,1542.92 C911.9,1543.36 910.29,1543.79 908.68,1544.21 C907.07,1544.63 905.46,1545.04 903.84,1545.44 C902.23,1545.84 900.61,1546.22 898.99,1546.59 C897.37,1546.96 895.75,1547.33 894.12,1547.68 C892.49,1548.03 890.86,1548.37 889.23,1548.7 C887.6,1549.03 885.96,1549.35 884.32,1549.66 C882.68,1549.97 881.04,1550.26 879.4,1550.55 C877.76,1550.84 876.11,1551.11 874.46,1551.37 C872.81,1551.63 871.17,1551.89 869.52,1552.13 C867.87,1552.37 866.21,1552.61 864.55,1552.83 C862.89,1553.05 861.24,1553.27 859.58,1553.47 C857.92,1553.67 856.26,1553.86 854.6,1554.04 C852.94,1554.22 851.27,1554.4 849.6,1554.56 C847.93,1554.72 846.27,1554.87 844.6,1555.01 C842.93,1555.15 841.26,1555.29 839.59,1555.41 C837.92,1555.53 836.24,1555.65 834.57,1555.75 C832.9,1555.85 831.22,1555.95 829.55,1556.03 C827.88,1556.11 826.2,1556.18 824.52,1556.25 C822.84,1556.32 821.17,1556.37 819.49,1556.42 C817.81,1556.47 816.13,1556.51 814.45,1556.54 C812.77,1556.57 811.09,1556.59 809.41,1556.6 C807.73,1556.61 806.05,1556.62 804.37,1556.61 C802.69,1556.6 801.01,1556.58 799.33,1556.56 C797.65,1556.54 795.97,1556.51 794.29,1556.47 C792.61,1556.43 790.93,1556.38 789.25,1556.32 C787.57,1556.26 785.89,1556.2 784.21,1556.13 C782.53,1556.06 780.85,1555.97 779.17,1555.88 C777.49,1555.79 775.82,1555.69 774.14,1555.59 C772.46,1555.48 770.78,1555.37 769.11,1555.25 C767.44,1555.13 765.76,1555 764.09,1554.87 C762.42,1554.73 760.75,1554.59 759.08,1554.44 C757.41,1554.29 755.74,1554.13 754.07,1553.97 C752.4,1553.81 750.74,1553.63 749.07,1553.45 C747.41,1553.27 745.74,1553.09 744.08,1552.89 C742.42,1552.7 740.76,1552.49 739.1,1552.28 C737.44,1552.07 735.78,1551.86 734.13,1551.64 C732.48,1551.42 730.82,1551.18 729.17,1550.95 C727.52,1550.72 725.88,1550.48 724.23,1550.23 C722.59,1549.98 720.94,1549.72 719.3,1549.46 C717.66,1549.2 716.02,1548.94 714.38,1548.66 C712.74,1548.38 711.11,1548.1 709.48,1547.81 C707.85,1547.52 706.22,1547.22 704.59,1546.92 C702.96,1546.62 701.33,1546.31 699.71,1545.99 C698.09,1545.67 696.47,1545.35 694.85,1545.01 C693.23,1544.67 691.62,1544.33 690,1543.98 C688.38,1543.63 686.77,1543.27 685.16,1542.9 C683.55,1542.53 681.94,1542.15 680.34,1541.77 C678.74,1541.39 677.14,1541 675.54,1540.6 C673.94,1540.2 672.34,1539.79 670.74,1539.37 C669.14,1538.95 667.55,1538.52 665.96,1538.08 C664.37,1537.64 662.79,1537.2 661.2,1536.74 C659.62,1536.28 658.03,1535.81 656.45,1535.34 C654.87,1534.87 653.3,1534.39 651.72,1533.89 C650.14,1533.39 648.57,1532.88 647,1532.37 C645.43,1531.85 643.86,1531.34 642.29,1530.8 C640.72,1530.26 639.16,1529.72 637.6,1529.16 C636.04,1528.6 634.48,1528.04 632.92,1527.46 C631.36,1526.88 629.81,1526.3 628.26,1525.7 C626.71,1525.11 625.16,1524.5 623.61,1523.89 C622.06,1523.28 620.51,1522.65 618.97,1522.02 C617.43,1521.39 615.89,1520.75 614.35,1520.1 C612.81,1519.45 611.27,1518.79 609.74,1518.13 C608.21,1517.47 606.68,1516.8 605.15,1516.12 C603.62,1515.44 602.09,1514.75 600.56,1514.06 C599.03,1513.37 597.51,1512.67 595.99,1511.97 C594.47,1511.27 592.95,1510.56 591.43,1509.84 C589.91,1509.12 588.39,1508.4 586.88,1507.67 C585.37,1506.94 583.85,1506.22 582.34,1505.48 C580.83,1504.74 579.32,1504 577.81,1503.26 C576.3,1502.52 574.79,1501.77 573.29,1501.02 C571.78,1500.27 570.28,1499.51 568.78,1498.75 C567.28,1497.99 565.77,1497.23 564.27,1496.47 C562.77,1495.71 561.28,1494.94 559.78,1494.17 C558.28,1493.4 556.78,1492.63 555.29,1491.86 C553.8,1491.09 552.31,1490.31 550.82,1489.54 C549.33,1488.77 547.84,1487.99 546.35,1487.22 C544.86,1486.45 543.37,1485.67 541.88,1484.89 C540.39,1484.11 538.91,1483.33 537.43,1482.55 C535.95,1481.77 534.46,1480.99 532.98,1480.21 C531.5,1479.43 530.02,1478.65 528.54,1477.87 C527.06,1477.09 525.58,1476.3 524.1,1475.52 C522.62,1474.74 521.15,1473.96 519.67,1473.17 C518.19,1472.38 516.71,1471.6 515.24,1470.81 C513.77,1470.02 512.3,1469.24 510.83,1468.45 C509.36,1467.66 507.88,1466.88 506.41,1466.09 C504.94,1465.3 503.47,1464.51 502,1463.72 C500.53,1462.93 499.07,1462.14 497.6,1461.35 C496.13,1460.56 494.67,1459.76 493.2,1458.97 C491.73,1458.18 490.26,1457.38 488.8,1456.59 C487.34,1455.8 485.87,1455 484.41,1454.21 C482.95,1453.42 481.48,1452.62 480.02,1451.83 C478.56,1451.03 477.1,1450.24 475.64,1449.44 C474.18,1448.64 472.72,1447.86 471.26,1447.06 C469.8,1446.26 468.34,1445.46 466.88,1444.66 C465.42,1443.86 463.96,1443.07 462.5,1442.27 C461.04,1441.47 459.59,1440.68 458.13,1439.88 C456.67,1439.08 455.22,1438.28 453.76,1437.48 C452.3,1436.68 450.85,1435.88 449.39,1435.08 C447.93,1434.28 446.47,1433.48 445.02,1432.68 C443.56,1431.88 442.12,1431.08 440.66,1430.28 C439.21,1429.48 437.75,1428.67 436.29,1427.87 C434.84,1427.07 433.38,1426.27 431.93,1425.47 C430.48,1424.67 429.02,1423.87 427.57,1423.07 C426.12,1422.27 424.66,1421.46 423.21,1420.66 C421.75,1419.86 420.29,1419.05 418.84,1418.25 C417.38,1417.45 415.93,1416.65 414.48,1415.85 C413.03,1415.05 411.57,1414.24 410.12,1413.44 C408.67,1412.64 407.21,1411.83 405.76,1411.03 C404.31,1410.23 402.85,1409.43 401.4,1408.63 C399.94,1407.83 398.48,1407.02 397.03,1406.22 C395.57,1405.42 394.12,1404.61 392.67,1403.81 C391.22,1403.01 389.75,1402.21 388.3,1401.41 C386.85,1400.61 385.39,1399.8 383.94,1399 C382.49,1398.2 381.03,1397.4 379.57,1396.6 C378.11,1395.8 376.66,1395 375.2,1394.2 C373.74,1393.4 372.28,1392.59 370.82,1391.79 C369.36,1390.99 367.91,1390.19 366.45,1389.39 C364.99,1388.59 363.53,1387.79 362.07,1386.99 C360.61,1386.19 359.14,1385.4 357.68,1384.6 C356.22,1383.8 354.76,1383 353.3,1382.2 C351.84,1381.4 350.37,1380.61 348.91,1379.81 C347.45,1379.01 345.99,1378.21 344.52,1377.41 C343.05,1376.61 341.59,1375.82 340.12,1375.02 C338.65,1374.22 337.19,1373.44 335.72,1372.64 C334.25,1371.85 332.78,1371.05 331.31,1370.25 C329.84,1369.45 328.37,1368.66 326.9,1367.87 C325.43,1367.08 323.95,1366.28 322.48,1365.49 C321.01,1364.7 319.53,1363.91 318.06,1363.12 C316.59,1362.33 315.12,1361.53 313.64,1360.74 C312.16,1359.95 310.68,1359.17 309.2,1358.38 C307.72,1357.6 306.24,1356.81 304.76,1356.03 C303.28,1355.25 301.79,1354.46 300.31,1353.68 C298.83,1352.9 297.35,1352.12 295.86,1351.35 C294.37,1350.58 292.88,1349.81 291.39,1349.04 C289.9,1348.27 288.41,1347.51 286.92,1346.75 C285.43,1345.99 283.93,1345.23 282.43,1344.48 C280.93,1343.73 279.43,1342.98 277.93,1342.24 C276.43,1341.5 274.93,1340.76 273.42,1340.03 C271.92,1339.3 270.41,1338.56 268.9,1337.84 C267.39,1337.12 265.88,1336.4 264.36,1335.69 C262.85,1334.98 261.33,1334.27 259.81,1333.57 C258.29,1332.87 256.77,1332.18 255.25,1331.5 C253.73,1330.82 252.2,1330.13 250.67,1329.46 C249.14,1328.79 247.6,1328.13 246.07,1327.47 C244.53,1326.81 243,1326.16 241.46,1325.52 C239.92,1324.88 238.38,1324.24 236.83,1323.62 C235.28,1323 233.73,1322.39 232.18,1321.78 C230.63,1321.17 229.08,1320.57 227.52,1319.98 C225.96,1319.39 224.4,1318.82 222.83,1318.25 C221.26,1317.68 219.69,1317.12 218.12,1316.57 C216.55,1316.02 214.98,1315.49 213.4,1314.96 C211.82,1314.43 210.24,1313.92 208.65,1313.41 C207.06,1312.9 205.47,1312.4 203.88,1311.92 C202.29,1311.44 200.69,1310.97 199.09,1310.51 C197.49,1310.05 195.89,1309.6 194.29,1309.16 C192.69,1308.72 191.08,1308.3 189.47,1307.88 C187.86,1307.47 186.25,1307.06 184.63,1306.67 C183.01,1306.28 181.39,1305.9 179.77,1305.54 C178.15,1305.17 176.53,1304.82 174.9,1304.48 C173.27,1304.14 171.64,1303.82 170.01,1303.5 C168.38,1303.18 166.75,1302.88 165.11,1302.59 C163.48,1302.3 161.84,1302.03 160.2,1301.77 C158.56,1301.51 156.92,1301.26 155.27,1301.03 C153.62,1300.8 151.98,1300.57 150.33,1300.37 C148.68,1300.16 147.03,1299.97 145.38,1299.8 C143.73,1299.62 142.07,1299.47 140.42,1299.32 C138.76,1299.17 137.11,1299.04 135.45,1298.92 C133.79,1298.8 132.13,1298.7 130.47,1298.61 C128.81,1298.52 127.15,1298.46 125.48,1298.4 C123.81,1298.34 122.15,1298.3 120.48,1298.27 C118.81,1298.24 117.15,1298.23 115.48,1298.23 C113.81,1298.23 112.14,1298.25 110.47,1298.28 C108.8,1298.31 107.13,1298.35 105.46,1298.41 C103.79,1298.47 102.12,1298.54 100.45,1298.62 C98.78,1298.7 97.11,1298.8 95.44,1298.91 C93.77,1299.02 92.1,1299.14 90.43,1299.28 C88.76,1299.41 87.09,1299.56 85.42,1299.72 C83.75,1299.88 82.09,1300.06 80.42,1300.24 C78.75,1300.42 77.08,1300.62 75.42,1300.82 C73.76,1301.02 72.1,1301.24 70.44,1301.47 C68.78,1301.7 67.12,1301.94 65.46,1302.19 C63.8,1302.44 62.15,1302.7 60.49,1302.97 C58.84,1303.24 57.18,1303.52 55.53,1303.81 C53.88,1304.1 52.24,1304.4 50.59,1304.71 C48.95,1305.02 47.3,1305.33 45.66,1305.66 C44.02,1305.99 42.38,1306.33 40.74,1306.68 C39.11,1307.03 37.48,1307.38 35.85,1307.74 C34.22,1308.1 31.79,1308.66 30.98,1308.85" fill="none" stroke="#201412" stroke-width="2"/>
<circle cx="806.5" cy="1204.6" r="33.6" fill="none" stroke="#0c0808" stroke-width="2"/>
<rect x="791" y="1181" width="31" height="47" fill="none" stroke="#201412" stroke-width="2"/>
<rect x="799" y="1185" width="15" height="16" fill="none" stroke="#201412" stroke-width="2"/>
<line x1="806.4" y1="1164.1" x2="806.2" y2="1104.7" stroke="#000" stroke-width="8.7" stroke-linecap="butt"/><polyline points="784,1128.6 806.2,1104.7 828.8,1128.6" fill="none" stroke="#000" stroke-width="8.7" stroke-linecap="round" stroke-linejoin="miter" stroke-miterlimit="10"/>
<line x1="806.1" y1="1246.7" x2="806.6" y2="1306.1" stroke="#000" stroke-width="8.7" stroke-linecap="butt"/><polyline points="784,1281.8 806.6,1306.1 828.8,1281.8" fill="none" stroke="#000" stroke-width="8.7" stroke-linecap="round" stroke-linejoin="miter" stroke-miterlimit="10"/>
<circle cx="870.8" cy="1144.6" r="26.2" fill="none" stroke="#0c0808" stroke-width="1.9"/>
<circle cx="870.8" cy="1274.5" r="26.2" fill="none" stroke="#0c0808" stroke-width="1.9"/>
<text transform="translate(63.28 94.15) scale(0.8344 1)" font-size="56.67" fill="#201412" stroke="#201412" stroke-width="1.318" stroke-linejoin="round">Treble</text>
<text transform="translate(62.9 148.65) scale(0.8076 1)" font-size="56.81" fill="#201412" stroke="#201412" stroke-width="1.362" stroke-linejoin="round">Boost/Cut</text>
<text transform="translate(62.32 259.85) scale(0.8703 1)" font-size="56.09" fill="#201412" stroke="#201412" stroke-width="1.264" stroke-linejoin="round">Mid</text>
<text transform="translate(62.9 314.45) scale(0.8097 1)" font-size="56.67" fill="#201412" stroke="#201412" stroke-width="1.359" stroke-linejoin="round">Boost/Cut</text>
<text transform="translate(62.93 434.85) scale(0.8089 1)" font-size="56.09" fill="#201412" stroke="#201412" stroke-width="1.360" stroke-linejoin="round">Bass</text>
<text transform="translate(62.9 489.45) scale(0.8097 1)" font-size="56.67" fill="#201412" stroke="#201412" stroke-width="1.359" stroke-linejoin="round">Boost/Cut</text>
<text transform="translate(466.48 252.95) scale(0.8492 1)" font-size="57.25" fill="#201412" stroke="#201412" stroke-width="1.295" stroke-linejoin="round">3 Way Mid.</text>
<text transform="translate(466.22 308.05) scale(0.8316 1)" font-size="56.81" fill="#201412" stroke="#201412" stroke-width="1.323" stroke-linejoin="round">Freq. SW.</text>
<text transform="translate(1000.68 201.15) scale(0.8418 1)" font-size="55.8" fill="#201412" stroke="#201412" stroke-width="1.307" stroke-linejoin="round">Volume</text>
<text transform="translate(815.99 301.05) scale(0.8292 1)" font-size="57.39" fill="#201412" stroke="#201412" stroke-width="1.327" stroke-linejoin="round">Balancer</text>
<text transform="translate(922.2 605.45) scale(0.8496 1)" font-size="55.94" fill="#201412" stroke="#201412" stroke-width="1.295" stroke-linejoin="round">Master Tone w/EQ</text>
<text transform="translate(922.29 660.35) scale(0.8225 1)" font-size="55.94" fill="#201412" stroke="#201412" stroke-width="1.337" stroke-linejoin="round">Bypass SW.</text>
<text transform="translate(922.32 714.25) scale(0.8326 1)" font-size="54.64" fill="#201412" stroke="#201412" stroke-width="1.321" stroke-linejoin="round">Pull: Bypass</text>
<text transform="translate(694.11 400.75) scale(0.8367 1)" font-size="36.67" fill="#201412" stroke="#201412" stroke-width="1.076" stroke-linejoin="round">H: 350Hz</text>
<text transform="translate(694.11 435.45) scale(0.8385 1)" font-size="36.67" fill="#201412" stroke="#201412" stroke-width="1.073" stroke-linejoin="round">L: 250Hz</text>
<text transform="translate(663.3 658.05) scale(0.8387 1)" font-size="36.67" fill="#201412" stroke="#201412" stroke-width="1.073" stroke-linejoin="round">H: 600Hz</text>
<text transform="translate(663.31 692.75) scale(0.8358 1)" font-size="36.67" fill="#201412" stroke="#201412" stroke-width="1.077" stroke-linejoin="round">L: 450Hz</text>
<text transform="translate(367.31 606.45) scale(0.8244 1)" font-size="37.1" fill="#201412" stroke="#201412" stroke-width="1.092" stroke-linejoin="round">H: 1kHz</text>
<text transform="translate(367.31 641.15) scale(0.8506 1)" font-size="36.09" fill="#201412" stroke="#201412" stroke-width="1.058" stroke-linejoin="round">L: 850Hz</text>
<text transform="translate(362.12 1219.05) scale(0.8359 1)" font-size="56.38" fill="#201412" stroke="#201412" stroke-width="1.316" stroke-linejoin="round">Hexa Mid System</text>
<text transform="translate(901.75 1157.15) scale(0.8156 1)" font-size="49.04" fill="#201412" stroke="#201412" stroke-width="1.349" stroke-linejoin="round">(</text>
<text transform="translate(916.61 1162.35) scale(0.8016 1)" font-size="52.75" fill="#201412" stroke="#201412" stroke-width="1.372" stroke-linejoin="round">High</text>
<text transform="translate(1012.15 1157.15) scale(0.7875 1)" font-size="49.04" fill="#201412" stroke="#201412" stroke-width="1.397" stroke-linejoin="round">)</text>
<text transform="translate(901.34 1286.65) scale(0.7792 1)" font-size="49.04" fill="#201412" stroke="#201412" stroke-width="1.412" stroke-linejoin="round">(</text>
<text transform="translate(915.6 1291.85) scale(0.8138 1)" font-size="52.32" fill="#201412" stroke="#201412" stroke-width="1.352" stroke-linejoin="round">Low</text>
<text transform="translate(1002.85 1286.65) scale(0.8297 1)" font-size="49.04" fill="#201412" stroke="#201412" stroke-width="1.326" stroke-linejoin="round">)</text>
<text transform="translate(612.63 679.3) scale(1.0277 1)" font-size="41.3" fill="#000" stroke="#000" stroke-width="1.557" stroke-linejoin="round">2</text>
<text transform="translate(316.3 625.8) scale(1.0059 1)" font-size="39.57" fill="#000" stroke="#000" stroke-width="1.591" stroke-linejoin="round">3</text>
<path d="M858.7,1125.6H865.9V1140.1H875.4V1125.6H882.8V1163H875.4V1145.9H865.9V1163H858.7Z" fill="#201412"/>
<path d="M861.4,1255.1H869V1286.8H882.6V1292.5H861.4Z" fill="#201412"/>
</svg>
</body></html>
